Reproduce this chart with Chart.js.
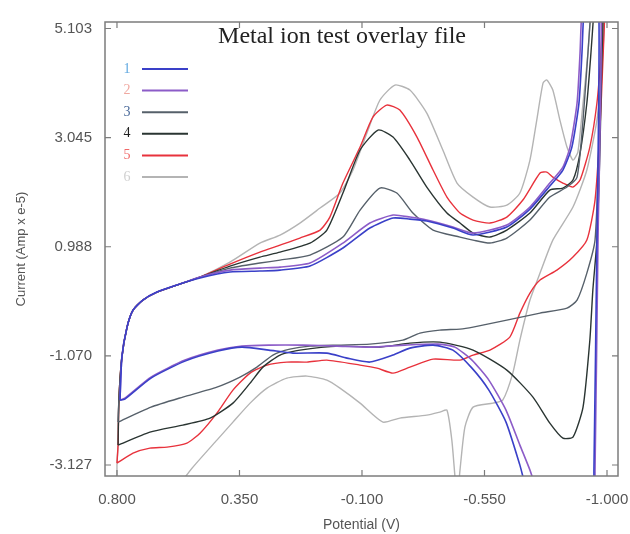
<!DOCTYPE html>
<html>
<head>
<meta charset="utf-8">
<script src="https://cdn.jsdelivr.net/npm/chart.js@4.4.1/dist/chart.umd.min.js"></script>
<style>
  html, body { margin: 0; padding: 0; background: #fff; }
  #wrap { width: 630px; height: 534px; }
</style>
</head>
<body>
<div id="wrap"><canvas id="cv" width="630" height="534"></canvas></div>
<script>
// Axis ticks as printed on the original plot
const X_TICKS = [0.8, 0.35, -0.1, -0.55, -1.0];
const Y_TICKS = [5.103, 3.045, 0.988, -1.07, -3.127];

const SERIES_LABELS = ["1", "2", "3", "4", "5", "6"];
const SERIES_COLORS = ["#3a40c8", "#8c5cc8", "#56606a", "#2a3532", "#e8323c", "#b4b4b4"];
const NUMBER_COLORS = ["#60a8e0", "#f0a8a0", "#4a6a9a", "#202020", "#f06868", "#d0d0d0"];

// [potential (V), current (Amp x e-5)] – each curve is one full sweep loop
const curve1 = [
  [0.789, -1.903], [0.771, -1.884], [0.675, -1.488], [0.55, -1.168], [0.429, -0.979],
  [0.341, -0.904], [0.242, -0.96], [0.154, -1.017], [0.029, -1.017], [-0.045, -1.111],
  [-0.129, -1.186], [-0.214, -1.054], [-0.276, -0.923], [-0.361, -0.866], [-0.434, -0.96],
  [-0.504, -1.3], [-0.566, -1.714], [-0.629, -2.318], [-0.68, -3.129], [-0.717, -3.789],
  [-0.827, -4.6], [-0.945, -4.6], [-0.952, -3.223], [-0.963, 1.114], [-0.97, 5.452],
  [-0.937, 6.5], [-0.915, 5.452], [-0.908, 4.641], [-0.897, 3.698], [-0.871, 2.868],
  [-0.838, 2.435], [-0.79, 2.133], [-0.717, 1.699], [-0.632, 1.36], [-0.508, 1.209],
  [-0.434, 1.341], [-0.338, 1.473], [-0.276, 1.51], [-0.214, 1.529], [-0.129, 1.341],
  [-0.03, 0.964], [0.091, 0.624], [0.201, 0.548], [0.275, 0.53], [0.385, 0.511],
  [0.495, 0.398], [0.58, 0.266], [0.653, 0.134], [0.705, -0.017], [0.741, -0.206],
  [0.763, -0.526], [0.782, -1.092], [0.789, -1.903],
];

const curve2 = [
  [0.789, -1.903], [0.771, -1.865], [0.675, -1.469], [0.55, -1.149], [0.429, -0.96],
  [0.341, -0.885], [0.242, -0.866], [0.117, -0.866], [-0.008, -0.885], [-0.133, -0.904],
  [-0.258, -0.866], [-0.379, -0.847], [-0.441, -0.904], [-0.504, -1.149], [-0.566, -1.526],
  [-0.629, -2.092], [-0.68, -2.752], [-0.717, -3.223], [-0.742, -3.6], [-0.83, -4.6],
  [-0.948, -4.6], [-0.956, -3.223], [-0.967, 1.114], [-0.978, 5.452], [-0.94, 6.5],
  [-0.908, 5.452], [-0.901, 4.641], [-0.89, 3.698], [-0.864, 2.868], [-0.838, 2.491],
  [-0.79, 2.189], [-0.717, 1.737], [-0.632, 1.397], [-0.508, 1.246], [-0.434, 1.36],
  [-0.338, 1.492], [-0.276, 1.548], [-0.214, 1.586], [-0.129, 1.435], [-0.03, 1.058],
  [0.091, 0.681], [0.201, 0.605], [0.275, 0.586], [0.385, 0.548], [0.495, 0.417],
  [0.58, 0.266], [0.653, 0.134], [0.705, -0.017], [0.741, -0.206], [0.763, -0.526],
  [0.782, -1.092], [0.789, -1.903],
];

const curve3 = [
  [0.796, -2.318], [0.675, -2.035], [0.558, -1.846], [0.433, -1.658], [0.348, -1.469],
  [0.286, -1.281], [0.227, -1.054], [0.165, -0.942], [0.091, -0.885], [-0.019, -0.866],
  [-0.129, -0.847], [-0.25, -0.772], [-0.313, -0.639], [-0.386, -0.583], [-0.46, -0.564],
  [-0.508, -0.526], [-0.632, -0.394], [-0.754, -0.263], [-0.853, -0.168], [-0.89, -0.017],
  [-0.926, 0.492], [-0.956, 1.114], [-0.97, 2.812], [-0.978, 4.509], [-0.981, 5.452],
  [-0.96, 6.5], [-0.941, 5.452], [-0.93, 4.641], [-0.912, 3.377], [-0.89, 2.302],
  [-0.853, 2.114], [-0.79, 1.925], [-0.717, 1.492], [-0.632, 1.152], [-0.57, 1.058],
  [-0.508, 1.114], [-0.46, 1.171], [-0.361, 1.303], [-0.287, 1.624], [-0.228, 2.001],
  [-0.166, 2.095], [-0.093, 1.68], [-0.03, 1.171], [0.091, 0.831], [0.201, 0.737],
  [0.275, 0.681], [0.385, 0.586], [0.495, 0.417], [0.58, 0.266], [0.653, 0.134],
  [0.705, -0.017], [0.741, -0.206], [0.763, -0.526], [0.782, -1.092], [0.793, -1.903],
  [0.796, -2.318],
];

const curve4 = [
  [0.796, -2.752], [0.679, -2.507], [0.558, -2.374], [0.458, -2.242], [0.374, -1.96],
  [0.311, -1.583], [0.264, -1.281], [0.201, -1.054], [0.128, -0.96], [-0.019, -0.885],
  [-0.166, -0.904], [-0.276, -0.828], [-0.386, -0.81], [-0.508, -0.96], [-0.632, -1.337],
  [-0.728, -1.846], [-0.79, -2.337], [-0.838, -2.62], [-0.875, -2.601], [-0.912, -2.035],
  [-0.937, -0.772], [-0.948, 0.171], [-0.963, 1.114], [-0.974, 2.812], [-0.981, 4.509],
  [-0.985, 5.452], [-0.965, 6.5], [-0.952, 5.452], [-0.941, 4.641], [-0.926, 3.698],
  [-0.901, 2.755], [-0.875, 2.246], [-0.838, 2.095], [-0.79, 2.057], [-0.717, 1.624],
  [-0.632, 1.303], [-0.57, 1.171], [-0.508, 1.246], [-0.46, 1.435], [-0.412, 1.624],
  [-0.338, 2.114], [-0.276, 2.623], [-0.214, 3.057], [-0.159, 3.189], [-0.093, 2.812],
  [-0.03, 2.001], [0.029, 1.303], [0.091, 1.058], [0.201, 0.888], [0.275, 0.794],
  [0.385, 0.624], [0.495, 0.417], [0.58, 0.266], [0.653, 0.134], [0.705, -0.017],
  [0.741, -0.206], [0.763, -0.526], [0.782, -1.092], [0.793, -1.903], [0.796, -2.752],
];

const curve5 = [
  [0.8, -3.092], [0.741, -2.903], [0.679, -2.808], [0.616, -2.789], [0.543, -2.714],
  [0.495, -2.526], [0.433, -2.148], [0.374, -1.714], [0.311, -1.394], [0.249, -1.243],
  [0.176, -1.186], [0.102, -1.186], [0.029, -1.149], [-0.093, -1.243], [-0.155, -1.3],
  [-0.214, -1.394], [-0.276, -1.281], [-0.361, -1.13], [-0.46, -1.149], [-0.508, -1.054],
  [-0.57, -0.96], [-0.643, -0.715], [-0.68, -0.263], [-0.717, 0.115], [-0.754, 0.36],
  [-0.816, 0.548], [-0.875, 0.794], [-0.926, 1.114], [-0.956, 1.869], [-0.974, 3.189],
  [-0.985, 4.509], [-0.992, 5.452], [-0.99, 6.5], [-0.985, 5.452], [-0.978, 4.641],
  [-0.963, 3.698], [-0.937, 2.868], [-0.901, 2.246], [-0.875, 2.114], [-0.838, 2.189],
  [-0.801, 2.302], [-0.779, 2.397], [-0.754, 2.378], [-0.691, 1.869], [-0.632, 1.548],
  [-0.57, 1.435], [-0.508, 1.492], [-0.46, 1.624], [-0.412, 1.925], [-0.361, 2.435],
  [-0.302, 3.057], [-0.239, 3.566], [-0.191, 3.66], [-0.14, 3.434], [-0.093, 2.868],
  [-0.03, 2.189], [0.018, 1.548], [0.054, 1.303], [0.128, 1.152], [0.201, 1.02],
  [0.275, 0.888], [0.385, 0.662], [0.495, 0.417], [0.58, 0.266], [0.653, 0.134],
  [0.705, -0.017], [0.741, -0.206], [0.763, -0.526], [0.782, -1.092], [0.793, -1.903],
  [0.796, -2.752], [0.8, -3.092],
];

const curve6 = [
  [0.8, -4.543], [0.679, -4.166], [0.587, -3.6], [0.521, -3.167], [0.433, -2.657],
  [0.374, -2.318], [0.311, -1.96], [0.249, -1.677], [0.176, -1.488], [0.102, -1.45],
  [0.029, -1.526], [-0.019, -1.677], [-0.093, -1.96], [-0.177, -2.318], [-0.239, -2.242],
  [-0.338, -2.186], [-0.386, -2.129], [-0.412, -2.092], [-0.43, -2.657], [-0.441, -3.317],
  [-0.449, -3.789], [-0.46, -3.223], [-0.478, -2.412], [-0.508, -2.035], [-0.581, -1.96],
  [-0.617, -1.903], [-0.654, -1.394], [-0.68, -0.772], [-0.717, -0.017], [-0.754, 0.492],
  [-0.801, 1.114], [-0.875, 1.737], [-0.926, 2.435], [-0.963, 3.377], [-0.981, 4.32],
  [-0.989, 5.452], [-0.96, 6.5], [-0.941, 5.452], [-0.93, 4.641], [-0.912, 3.698],
  [-0.893, 2.774], [-0.875, 2.623], [-0.853, 2.868], [-0.827, 3.377], [-0.801, 3.943],
  [-0.779, 4.132], [-0.765, 4.075], [-0.742, 3.377], [-0.717, 2.623], [-0.68, 2.001],
  [-0.632, 1.774], [-0.57, 1.737], [-0.508, 1.925], [-0.449, 2.189], [-0.397, 2.812],
  [-0.338, 3.509], [-0.276, 3.943], [-0.221, 4.037], [-0.166, 3.755], [-0.118, 3.132],
  [-0.067, 2.435], [-0.019, 2.001], [0.054, 1.718], [0.128, 1.435], [0.201, 1.209],
  [0.275, 1.058], [0.385, 0.699], [0.495, 0.417], [0.58, 0.266], [0.653, 0.134],
  [0.705, -0.017], [0.741, -0.206], [0.763, -0.526], [0.782, -1.092], [0.793, -1.903],
  [0.796, -2.752], [0.8, -3.092], [0.8, -4.543],
];

const CURVES = [curve1, curve2, curve3, curve4, curve5, curve6];

const AXIS_GREY = "#7c7c7c";
const TEXT_GREY = "#555555";

// Plot frame with gnuplot-style inward ticks on all four sides
const framePlugin = {
  id: "frame",
  afterDraw(chart) {
    const { ctx, chartArea: a, scales } = chart;
    ctx.save();
    ctx.strokeStyle = AXIS_GREY;
    ctx.lineWidth = 1.5;
    ctx.strokeRect(a.left, a.top, a.right - a.left, a.bottom - a.top);
    ctx.lineWidth = 1.2;
    ctx.beginPath();
    Y_TICKS.forEach((v) => {
      const y = scales.y.getPixelForValue(v);
      ctx.moveTo(a.left, y);
      ctx.lineTo(a.left + 6, y);
      ctx.moveTo(a.right, y);
      ctx.lineTo(a.right - 6, y);
    });
    X_TICKS.forEach((v) => {
      const x = scales.x.getPixelForValue(v);
      ctx.moveTo(x, a.bottom);
      ctx.lineTo(x, a.bottom - 6);
      ctx.moveTo(x, a.top);
      ctx.lineTo(x, a.top + 6);
    });
    ctx.stroke();
    ctx.restore();
  },
};

// Title and numbered key drawn inside the plot area
const keyPlugin = {
  id: "key",
  afterDraw(chart) {
    const { ctx, chartArea: a } = chart;
    ctx.save();
    ctx.fillStyle = "#222";
    ctx.font = "24px 'Liberation Serif', serif";
    ctx.textAlign = "center";
    ctx.textBaseline = "middle";
    ctx.fillText("Metal ion test overlay file", a.left + 237, a.top + 15);

    ctx.font = "14px 'Liberation Serif', serif";
    SERIES_LABELS.forEach((label, i) => {
      const y = a.top + 47 + i * 21.6;
      ctx.fillStyle = NUMBER_COLORS[i];
      ctx.fillText(label, a.left + 22, y);
      ctx.strokeStyle = SERIES_COLORS[i];
      ctx.lineWidth = 2;
      ctx.beginPath();
      ctx.moveTo(a.left + 37, y);
      ctx.lineTo(a.left + 83, y);
      ctx.stroke();
    });
    ctx.restore();
  },
};

const datasets = CURVES.map((curve, i) => ({
  label: SERIES_LABELS[i],
  data: curve.map(([x, y]) => ({ x, y })),
  showLine: true,
  borderColor: SERIES_COLORS[i],
  borderWidth: i < 2 ? 1.6 : 1.4,
  pointRadius: 0,
  tension: 0.2,
}));

new Chart(document.getElementById("cv"), {
  type: "scatter",
  data: { datasets },
  options: {
    responsive: false,
    animation: false,
    devicePixelRatio: 1,
    layout: { padding: { top: 22, right: 12, left: 0, bottom: 0 } },
    scales: {
      x: {
        type: "linear",
        reverse: true,
        min: -1.0404,
        max: 0.844,
        afterFit: (s) => {
          s.height = 58;
          s.paddingLeft = 0;
          s.paddingRight = 0;
        },
        afterBuildTicks: (s) => { s.ticks = X_TICKS.map((v) => ({ value: v })); },
        grid: { display: false, drawTicks: false },
        border: { display: false },
        ticks: {
          padding: 15,
          color: TEXT_GREY,
          font: { family: "'Liberation Sans', Arial, sans-serif", size: 15 },
          callback: (v) => v.toFixed(3),
          maxRotation: 0,
          autoSkip: false,
        },
        title: {
          display: true,
          text: "Potential (V)",
          color: TEXT_GREY,
          font: { family: "'Liberation Sans', Arial, sans-serif", size: 14 },
          padding: { top: 0, bottom: 0 },
        },
      },
      y: {
        type: "linear",
        min: -3.334,
        max: 5.226,
        afterFit: (s) => {
          s.width = 105;
          s.paddingTop = 0;
          s.paddingBottom = 0;
        },
        afterBuildTicks: (s) => { s.ticks = Y_TICKS.map((v) => ({ value: v })); },
        grid: { display: false, drawTicks: false },
        border: { display: false },
        ticks: {
          padding: 13,
          color: TEXT_GREY,
          font: { family: "'Liberation Sans', Arial, sans-serif", size: 15 },
          callback: (v) => v.toFixed(3),
          autoSkip: false,
        },
        title: {
          display: true,
          text: "Current (Amp x e-5)",
          color: TEXT_GREY,
          font: { family: "'Liberation Sans', Arial, sans-serif", size: 13 },
          padding: { top: 14, bottom: 0 },
        },
      },
    },
    plugins: {
      legend: { display: false },
      tooltip: { enabled: false },
    },
  },
  plugins: [framePlugin, keyPlugin],
});
</script>
</body>
</html>
